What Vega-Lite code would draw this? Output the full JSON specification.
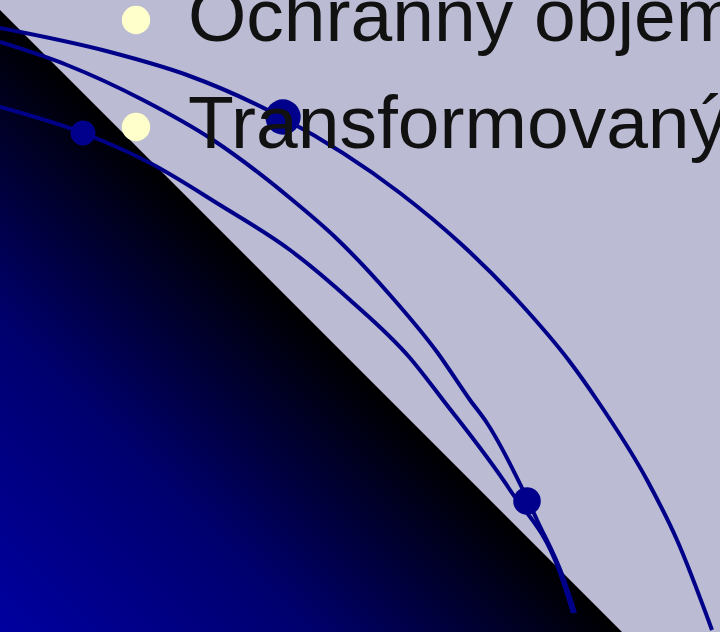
{
  "$schema": "https://vega.github.io/schema/vega-lite/v6.json",
  "width": 720,
  "height": 632,
  "autosize": {"type": "none"},
  "padding": 0,
  "background": "#BBBBD3",
  "config": {"view": {"stroke": null}},
  "datasets": {
    "edge": [{"x": 0, "y": 10}, {"x": 622, "y": 632}],
    "curves": [
      {"curve": "A", "x": 0, "y": 28}, {"curve": "A", "x": 110, "y": 52}, {"curve": "A", "x": 187, "y": 75}, {"curve": "A", "x": 283, "y": 118}, {"curve": "A", "x": 400, "y": 193}, {"curve": "A", "x": 460, "y": 243}, {"curve": "A", "x": 520, "y": 303}, {"curve": "A", "x": 570, "y": 362}, {"curve": "A", "x": 597, "y": 400}, {"curve": "A", "x": 647, "y": 480}, {"curve": "A", "x": 677, "y": 540}, {"curve": "A", "x": 712, "y": 630},
      {"curve": "B", "x": 0, "y": 42}, {"curve": "B", "x": 67, "y": 65}, {"curve": "B", "x": 143, "y": 100}, {"curve": "B", "x": 213, "y": 140}, {"curve": "B", "x": 290, "y": 198}, {"curve": "B", "x": 335, "y": 237}, {"curve": "B", "x": 390, "y": 295}, {"curve": "B", "x": 437, "y": 352}, {"curve": "B", "x": 470, "y": 400}, {"curve": "B", "x": 487, "y": 423}, {"curve": "B", "x": 523, "y": 490}, {"curve": "B", "x": 537, "y": 520}, {"curve": "B", "x": 563, "y": 577}, {"curve": "B", "x": 575, "y": 613},
      {"curve": "C", "x": 0, "y": 107}, {"curve": "C", "x": 83, "y": 133}, {"curve": "C", "x": 150, "y": 163}, {"curve": "C", "x": 220, "y": 205}, {"curve": "C", "x": 290, "y": 250}, {"curve": "C", "x": 350, "y": 300}, {"curve": "C", "x": 410, "y": 358}, {"curve": "C", "x": 443, "y": 400}, {"curve": "C", "x": 510, "y": 490}, {"curve": "C", "x": 560, "y": 573}, {"curve": "C", "x": 573, "y": 613}
    ],
    "dots": [
      {"x": 283, "y": 117, "r": "big"},
      {"x": 83, "y": 133, "r": "small"},
      {"x": 527, "y": 501, "r": "mid"}
    ],
    "bullets": [
      {"x": 136, "y": 20, "label": "Ochranný objem", "ty": 41},
      {"x": 136, "y": 127, "label": "Transformovaný", "ty": 148}
    ]
  },
  "layer": [
    {
      "data": {"name": "edge"},
      "mark": {
        "type": "area",
        "clip": true,
        "color": {
          "gradient": "linear",
          "x1": 0, "y1": 1, "x2": 0.5, "y2": 0.5,
          "stops": [
            {"offset": 0, "color": "#0000A0"},
            {"offset": 0.5, "color": "#00006E"},
            {"offset": 1, "color": "#000000"}
          ]
        }
      },
      "encoding": {
        "x": {"field": "x", "type": "quantitative", "scale": {"domain": [0, 720], "nice": false, "zero": false}, "axis": null},
        "y": {"field": "y", "type": "quantitative", "scale": {"domain": [0, 632], "nice": false, "zero": false, "reverse": true}, "axis": null},
        "y2": {"datum": 632}
      }
    },
    {
      "data": {"name": "curves"},
      "mark": {"type": "line", "clip": true, "interpolate": "monotone", "strokeWidth": 4, "color": "#000088"},
      "encoding": {
        "x": {"field": "x", "type": "quantitative"},
        "y": {"field": "y", "type": "quantitative"},
        "detail": {"field": "curve"}
      }
    },
    {
      "data": {"name": "dots"},
      "transform": [{"filter": "datum.r === 'big'"}],
      "mark": {"type": "circle", "opacity": 1, "color": "#00008C", "size": 1250},
      "encoding": {
        "x": {"field": "x", "type": "quantitative"},
        "y": {"field": "y", "type": "quantitative"}
      }
    },
    {
      "data": {"name": "dots"},
      "transform": [{"filter": "datum.r === 'mid'"}],
      "mark": {"type": "circle", "opacity": 1, "color": "#00008C", "size": 760},
      "encoding": {
        "x": {"field": "x", "type": "quantitative"},
        "y": {"field": "y", "type": "quantitative"}
      }
    },
    {
      "data": {"name": "dots"},
      "transform": [{"filter": "datum.r === 'small'"}],
      "mark": {"type": "circle", "opacity": 1, "color": "#00008C", "size": 620},
      "encoding": {
        "x": {"field": "x", "type": "quantitative"},
        "y": {"field": "y", "type": "quantitative"}
      }
    },
    {
      "data": {"name": "bullets"},
      "mark": {"type": "circle", "opacity": 1, "color": "#FFFFCC", "size": 804},
      "encoding": {
        "x": {"field": "x", "type": "quantitative"},
        "y": {"field": "y", "type": "quantitative"}
      }
    },
    {
      "data": {"name": "bullets"},
      "mark": {"type": "text", "clip": true, "align": "left", "baseline": "alphabetic", "font": "Liberation Sans", "fontSize": 75, "color": "#111111", "dx": 52},
      "encoding": {
        "x": {"field": "x", "type": "quantitative"},
        "y": {"field": "ty", "type": "quantitative"},
        "text": {"field": "label"}
      }
    }
  ]
}
